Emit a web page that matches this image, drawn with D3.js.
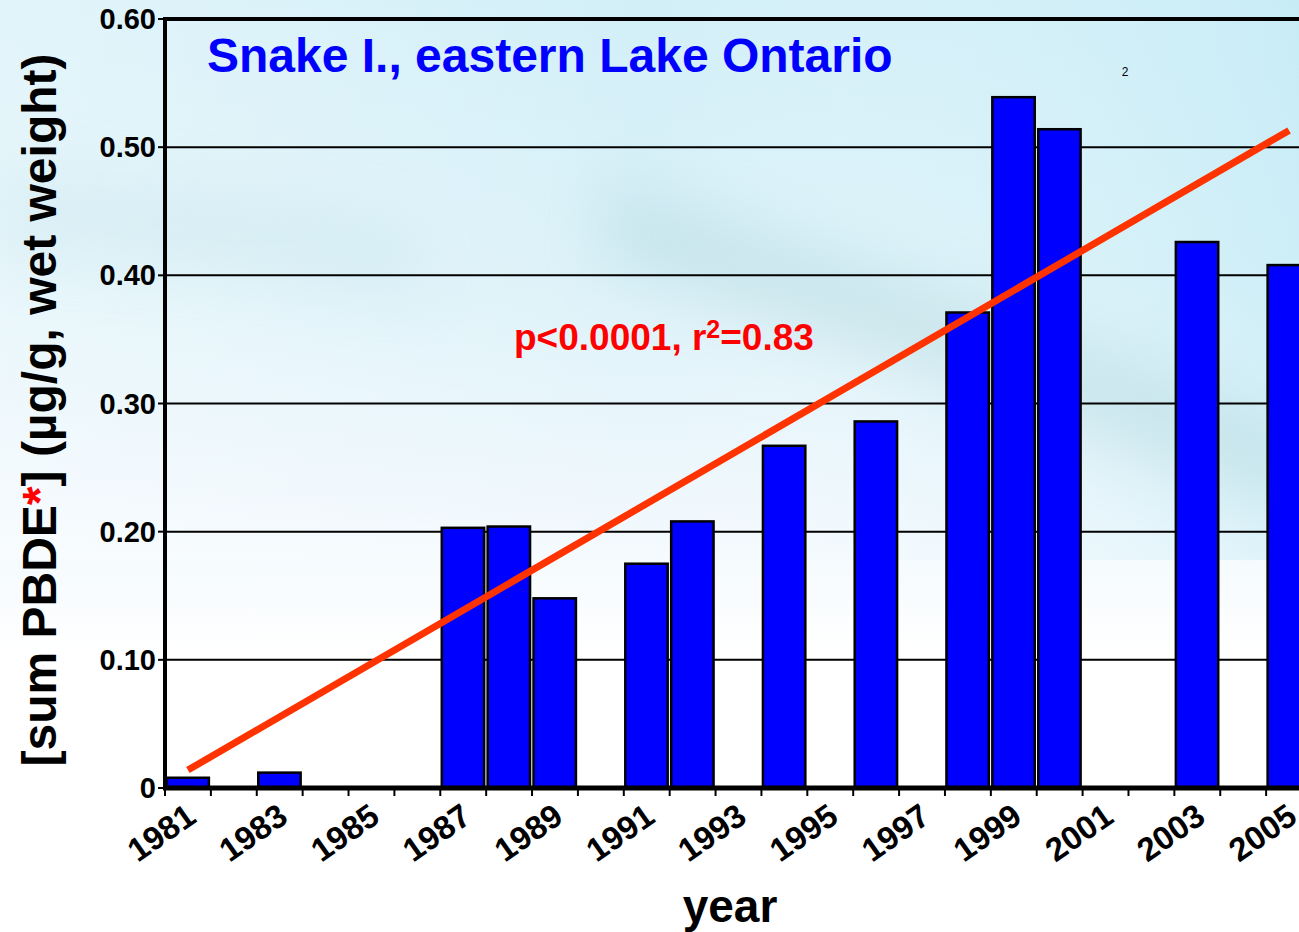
<!DOCTYPE html>
<html>
<head>
<meta charset="utf-8">
<script src="https://cdn.jsdelivr.net/npm/d3@7"></script>
<style>
  body { margin: 0; overflow: hidden; }
  svg { display: block; font-family: "Liberation Sans", Arial, sans-serif; }
</style>
</head>
<body>
<svg id="chart" width="1299" height="932"></svg>
<script>
// data
const years = d3.range(1981, 2006);            // one slot per year
const barYears = [1981, 1983, 1987, 1988, 1989, 1991, 1992, 1994, 1996, 1998, 1999, 2000, 2003, 2005];
const barValues = [0.008, 0.012, 0.203, 0.204, 0.148, 0.175, 0.208, 0.267, 0.286, 0.371, 0.539, 0.514, 0.426, 0.408];
const trendYears = [1981, 2005];
const trendValues = [0.014, 0.513];
const yTicks = [0, 0.1, 0.2, 0.3, 0.4, 0.5, 0.6];
const xLabels = [1981, 1983, 1985, 1987, 1989, 1991, 1993, 1995, 1997, 1999, 2001, 2003, 2005];

const svg = d3.select("#chart");
const defs = svg.append("defs");

// slide background: pale blue at the top fading to white
const bg = defs.append("linearGradient").attr("id", "bg")
  .attr("x1", 0).attr("y1", 0).attr("x2", 0).attr("y2", 1);
bg.append("stop").attr("offset", "0%").attr("stop-color", "#d2eff8");
bg.append("stop").attr("offset", "30%").attr("stop-color", "#dcf2f9");
bg.append("stop").attr("offset", "55%").attr("stop-color", "#f0f8fd");
bg.append("stop").attr("offset", "70%").attr("stop-color", "#ffffff");
bg.append("stop").attr("offset", "100%").attr("stop-color", "#ffffff");

// a bit more cyan towards the top right
const side = defs.append("linearGradient").attr("id", "side")
  .attr("x1", 0).attr("y1", 0).attr("x2", 1).attr("y2", 0);
side.append("stop").attr("offset", "0%").attr("stop-color", "#ffffff").attr("stop-opacity", 0.35);
side.append("stop").attr("offset", "50%").attr("stop-color", "#ffffff").attr("stop-opacity", 0);
side.append("stop").attr("offset", "100%").attr("stop-color", "#b8e8f4").attr("stop-opacity", 0.4);

const blur = defs.append("filter").attr("id", "soft")
  .attr("x", "-20%").attr("y", "-50%").attr("width", "140%").attr("height", "200%");
blur.append("feGaussianBlur").attr("stdDeviation", 30);

svg.append("rect").attr("width", 1299).attr("height", 932).attr("fill", "url(#bg)");
svg.append("rect").attr("width", 1299).attr("height", 560).attr("fill", "url(#side)");
// faint diagonal streak in the background
svg.append("path")
  .attr("d", "M 600 180 Q 900 260 1299 420 L 1299 520 Q 950 380 600 260 Z")
  .attr("fill", "#9fcbd0").attr("opacity", 0.3).attr("filter", "url(#soft)");
svg.append("path")
  .attr("d", "M 0 170 Q 200 180 420 230 L 420 300 Q 200 260 0 260 Z")
  .attr("fill", "#a9d4dc").attr("opacity", 0.2).attr("filter", "url(#soft)");

const slot = (1312 - 165) / years.length;
const xc = d => 165 + (d - 1981 + 0.5) * slot;
const y = d3.scaleLinear().domain([0, 0.6]).range([788, 19]);

// gridlines
svg.append("g").selectAll("line").data(yTicks.filter(d => d > 0 && d < 0.6)).join("line")
  .attr("x1", 165).attr("x2", 1299)
  .attr("y1", d => y(d)).attr("y2", d => y(d))
  .attr("stroke", "#000").attr("stroke-width", 2);

// bars
svg.append("g").selectAll("rect").data(barYears).join("rect")
  .attr("x", (d) => 165 + (d - 1981) * slot + 1.5)
  .attr("width", slot - 3.5)
  .attr("y", (d, i) => y(barValues[i]))
  .attr("height", (d, i) => y(0) - y(barValues[i]))
  .attr("fill", "#0000ff").attr("stroke", "#000").attr("stroke-width", 2.5);

// frame: top line, left axis, bottom axis
svg.append("line").attr("x1", 164).attr("x2", 1299).attr("y1", y(0.6)).attr("y2", y(0.6))
  .attr("stroke", "#000").attr("stroke-width", 4);
svg.append("line").attr("x1", 165).attr("x2", 165).attr("y1", y(0.6) - 2).attr("y2", y(0) + 2)
  .attr("stroke", "#000").attr("stroke-width", 4);
svg.append("line").attr("x1", 163).attr("x2", 1299).attr("y1", y(0)).attr("y2", y(0))
  .attr("stroke", "#000").attr("stroke-width", 5);

// y ticks and labels
const yAxis = svg.append("g");
yAxis.selectAll("line").data(yTicks).join("line")
  .attr("x1", 158).attr("x2", 165).attr("y1", d => y(d)).attr("y2", d => y(d))
  .attr("stroke", "#000").attr("stroke-width", 2);
yAxis.selectAll("text").data(yTicks).join("text")
  .attr("x", 156).attr("y", d => y(d) + 10)
  .attr("text-anchor", "end").attr("font-size", 29).attr("font-weight", "bold")
  .text(d => d === 0 ? "0" : d3.format(".2f")(d));

// x ticks at slot boundaries
svg.append("g").selectAll("line").data(d3.range(0, years.length + 1)).join("line")
  .attr("x1", d => 165 + d * slot).attr("x2", d => 165 + d * slot)
  .attr("y1", y(0)).attr("y2", y(0) + 8)
  .attr("stroke", "#000").attr("stroke-width", 2);

svg.append("g").selectAll("text").data(xLabels).join("text")
  .attr("transform", d => `translate(${xc(d) + 10},${y(0) + 33}) rotate(-35)`)
  .attr("text-anchor", "end").attr("font-size", 33).attr("font-weight", "bold")
  .text(d => d);

// trend line
svg.append("line")
  .attr("x1", xc(trendYears[0])).attr("y1", y(trendValues[0]))
  .attr("x2", xc(trendYears[1])).attr("y2", y(trendValues[1]))
  .attr("stroke", "#ff3300").attr("stroke-width", 7);

// texts
svg.append("text").attr("x", 207).attr("y", 72)
  .attr("font-size", 48).attr("font-weight", "bold").attr("fill", "#0000ff")
  .text("Snake I., eastern Lake Ontario");

svg.append("text").attr("x", 1125).attr("y", 76)
  .attr("font-size", 12).attr("text-anchor", "middle").attr("fill", "#000").text("2");

const stat = svg.append("text").attr("x", 514).attr("y", 350)
  .attr("font-size", 37).attr("font-weight", "bold").attr("fill", "#ff0000");
stat.append("tspan").text("p<0.0001, r");
stat.append("tspan").attr("font-size", 25).attr("dy", -12).text("2");
stat.append("tspan").attr("dy", 12).text("=0.83");

const yl = svg.append("text").attr("transform", "translate(56,410) rotate(-90)")
  .attr("text-anchor", "middle").attr("font-size", 48).attr("font-weight", "bold").attr("fill", "#000");
yl.append("tspan").text("[sum PBDE");
yl.append("tspan").attr("fill", "#ff0000").text("*");
yl.append("tspan").text("] (µg/g, wet weight)");

svg.append("text").attr("x", 730).attr("y", 922)
  .attr("text-anchor", "middle").attr("font-size", 46).attr("font-weight", "bold").text("year");
</script>
</body>
</html>
